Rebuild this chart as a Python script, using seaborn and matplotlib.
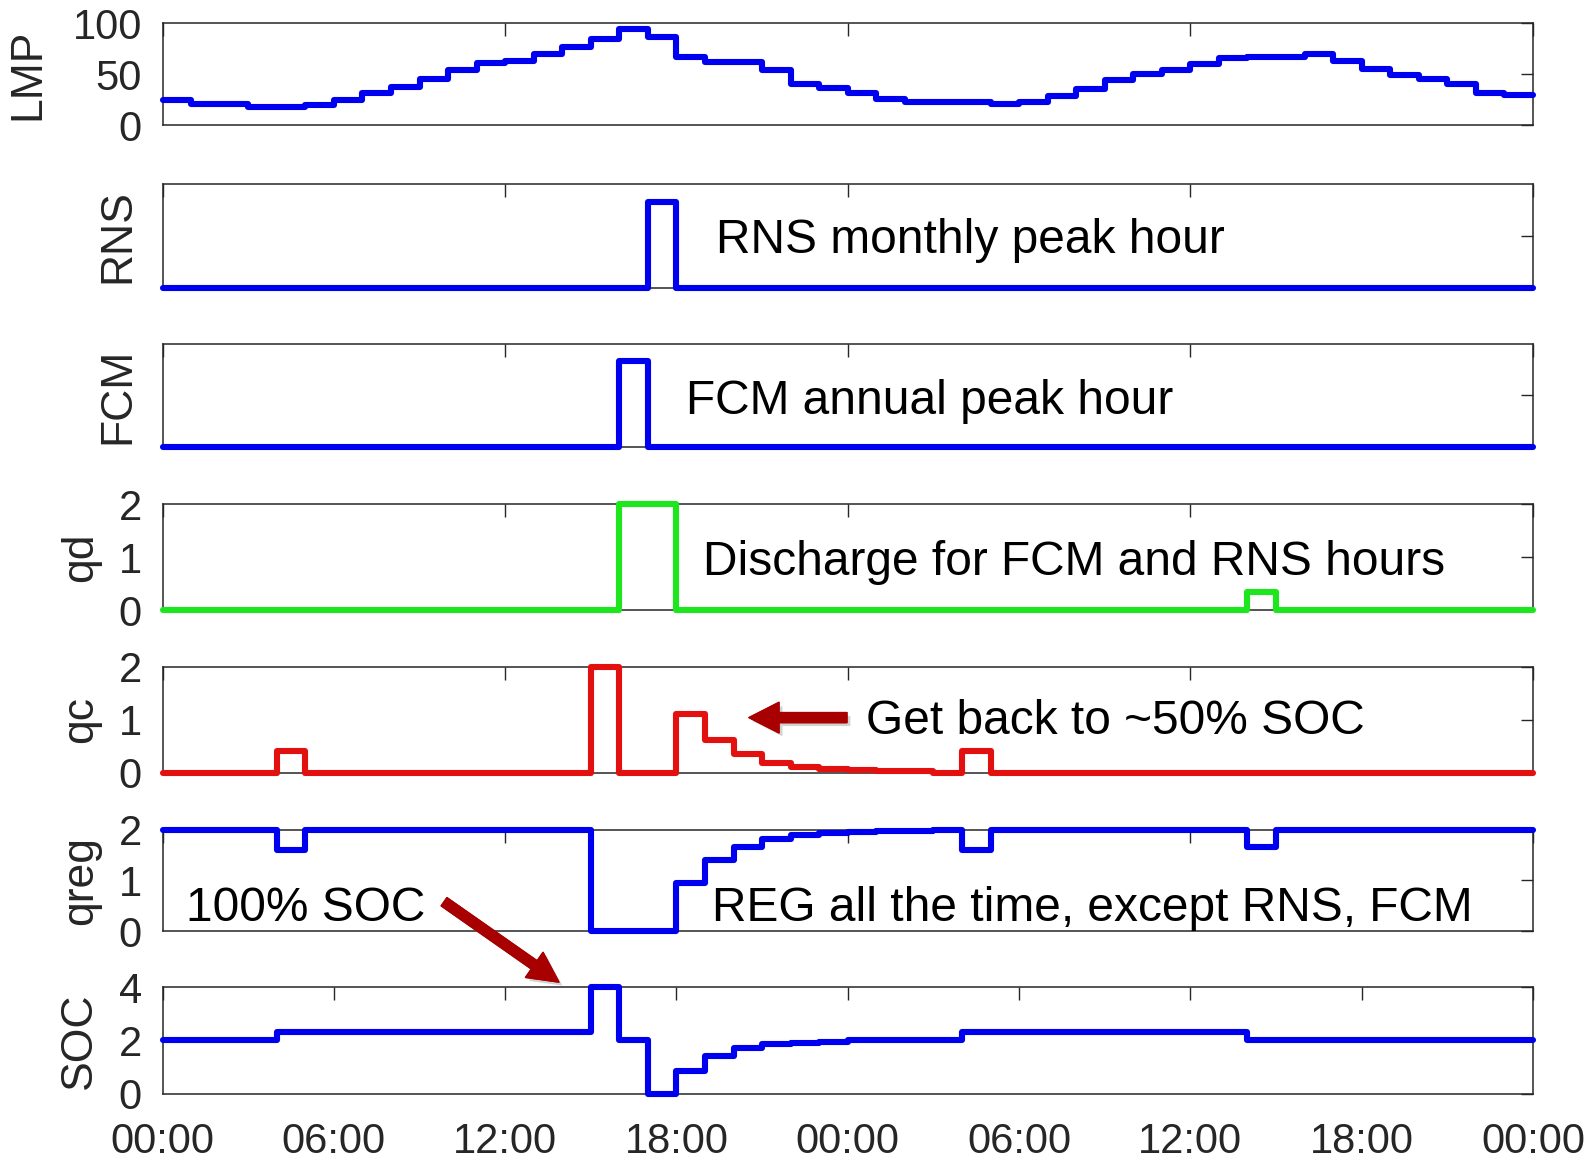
import numpy as np
import pandas as pd
import seaborn as sns
import matplotlib
matplotlib.use("Agg")
import matplotlib.pyplot as plt
from matplotlib import patheffects as pe

# ---------------- data (hourly values, 48 hours) ----------------
hours = list(range(48))
lmp = [25, 21, 21, 18, 18, 20, 25, 32, 38, 45, 54, 61, 63, 70, 77, 85, 95, 87,
       67, 62, 62, 54, 41, 37, 32, 26, 23, 23, 23, 21, 23, 29, 36, 44, 50, 54,
       60, 66, 67, 67, 70, 63, 55, 49, 45, 41, 32, 30]
rns = [0] * 17 + [1] + [0] * 30
fcm = [0] * 16 + [1] + [0] * 31
qd = [0] * 16 + [2, 2] + [0] * 20 + [0.35] + [0] * 9
qc = [0, 0, 0, 0, 0.4, 0, 0, 0, 0, 0, 0, 0, 0, 0, 0, 2, 0, 0,
      1.1, 0.62, 0.35, 0.19, 0.11, 0.06, 0.04, 0.03, 0.03, 0, 0.4, 0, 0, 0, 0, 0, 0, 0,
      0, 0, 0, 0, 0, 0, 0, 0, 0, 0, 0, 0]
qreg = [2, 2, 2, 2, 1.6, 2, 2, 2, 2, 2, 2, 2, 2, 2, 2, 0, 0, 0,
        0.95, 1.4, 1.65, 1.81, 1.89, 1.94, 1.96, 1.97, 1.97, 2, 1.6, 2, 2, 2, 2, 2, 2, 2,
        2, 2, 1.65, 2, 2, 2, 2, 2, 2, 2, 2, 2]
soc = [2, 2, 2, 2, 2.3, 2.3, 2.3, 2.3, 2.3, 2.3, 2.3, 2.3, 2.3, 2.3, 2.3, 4, 2, 0,
       0.85, 1.4, 1.7, 1.85, 1.92, 1.95, 2, 2, 2, 2, 2.3, 2.3, 2.3, 2.3, 2.3, 2.3, 2.3, 2.3,
       2.3, 2.3, 2, 2, 2, 2, 2, 2, 2, 2, 2, 2]

panel_names = ["LMP", "RNS", "FCM", "qd", "qc", "qreg", "SOC"]
x_tick_hours = [0, 6, 12, 18, 24, 30, 36, 42, 48]
x_tick_labels = ["00:00", "06:00", "12:00", "18:00", "00:00", "06:00", "12:00", "18:00", "00:00"]

# ---------------- style ----------------
sns.set_style("white")
plt.rcParams["font.family"] = ["Liberation Sans", "DejaVu Sans"]

BLUE = "#0000f0"
GREEN = "#1ee61e"
RED = "#e31010"
ARROW = "#a80000"
GRAY = "#262626"

fig = plt.figure(figsize=(15.94, 11.6), dpi=100)

left, width = 0.102, 0.8597
bottoms = [0.892, 0.752, 0.6144, 0.4741, 0.334, 0.1972, 0.0571]
heights = [0.0878, 0.089, 0.0894, 0.0912, 0.0911, 0.0877, 0.0919]

series = [lmp, rns, fcm, qd, qc, qreg, soc]
colors = [BLUE, BLUE, BLUE, GREEN, RED, BLUE, BLUE]
ylims = [(0, 100), (0, 1.2), (0, 1.2), (0, 2), (0, 2), (0, 2), (0, 4)]
yticks = [[0, 50, 100], [0.6], [0.6], [0, 1, 2], [0, 1, 2], [0, 1, 2], [0, 2, 4]]
show_ylabels = [True, False, False, True, True, True, True]
label_x = [-0.083, -0.018, -0.018, -0.045, -0.045, -0.045, -0.046]

axes = []
for i in range(7):
    ax = fig.add_axes([left, bottoms[i], width, heights[i]])
    vals = series[i]
    df = pd.DataFrame({"hour": hours + [48], "val": vals + [vals[-1]]})
    sns.lineplot(data=df, x="hour", y="val", ax=ax, color=colors[i], linewidth=4.4,
                 drawstyle="steps-post", clip_on=False, zorder=3)
    ax.set_xlim(0, 48)
    ax.set_ylim(*ylims[i])
    ax.set_yticks(yticks[i])
    if show_ylabels[i]:
        ax.set_yticklabels([str(t) for t in yticks[i]])
    else:
        ax.set_yticklabels([])
    if i == 6:
        ax.set_xticks(x_tick_hours)
        ax.set_xticklabels(x_tick_labels)
    else:
        ax.set_xticks([0, 12, 24, 36, 48])
        ax.set_xticklabels([])
    ax.set_xlabel("")
    ax.set_ylabel(panel_names[i], fontsize=32, color=GRAY)
    ax.yaxis.set_label_coords(label_x[i], 0.5)
    ax.tick_params(axis="both", direction="in", length=9, width=1.0, color=GRAY,
                   top=True, right=True, labelsize=30, labelcolor=GRAY)
    ax.tick_params(axis="y", pad=15)
    ax.tick_params(axis="x", pad=20)
    for sp in ax.spines.values():
        sp.set_color(GRAY)
        sp.set_linewidth(1.1)
        sp.set_visible(True)
    ax.set_facecolor("white")
    axes.append(ax)

# ---------------- annotations ----------------
TXT = 34.5
axes[1].text(19.4, 0.545, "RNS monthly peak hour", fontsize=TXT, ha="left", va="center", color="black")
axes[2].text(18.33, 0.535, "FCM annual peak hour", fontsize=TXT, ha="left", va="center", color="black")
axes[3].text(18.94, 0.905, "Discharge for FCM and RNS hours", fontsize=TXT, ha="left", va="center", color="black")
axes[4].text(24.64, 0.965, "Get back to ~50% SOC", fontsize=TXT, ha="left", va="center", color="black")
axes[5].text(19.23, 0.445, "REG all the time, except RNS, FCM", fontsize=TXT, ha="left", va="center", color="black", zorder=5)
axes[5].text(0.82, 0.445, "100% SOC", fontsize=TXT, ha="left", va="center", color="black")

shadow = [pe.withSimplePatchShadow(offset=(2.5, -2.5), shadow_rgbFace="gray", alpha=0.35), pe.Normal()]
arrow_kw = dict(arrowstyle="simple,head_width=1.1,head_length=1.08,tail_width=0.36",
                color=ARROW, mutation_scale=20, shrinkA=0, shrinkB=0, path_effects=shadow)

axes[4].annotate("", xy=(20.54, 1.04), xytext=(23.97, 1.04), arrowprops=arrow_kw,
                 annotation_clip=False)
axes[6].annotate("", xy=(13.88, 4.19), xycoords="data", xytext=(9.86, 0.58),
                 textcoords=axes[5].transData, arrowprops=arrow_kw, annotation_clip=False)

fig.savefig("out.png", dpi=100, facecolor="white")
